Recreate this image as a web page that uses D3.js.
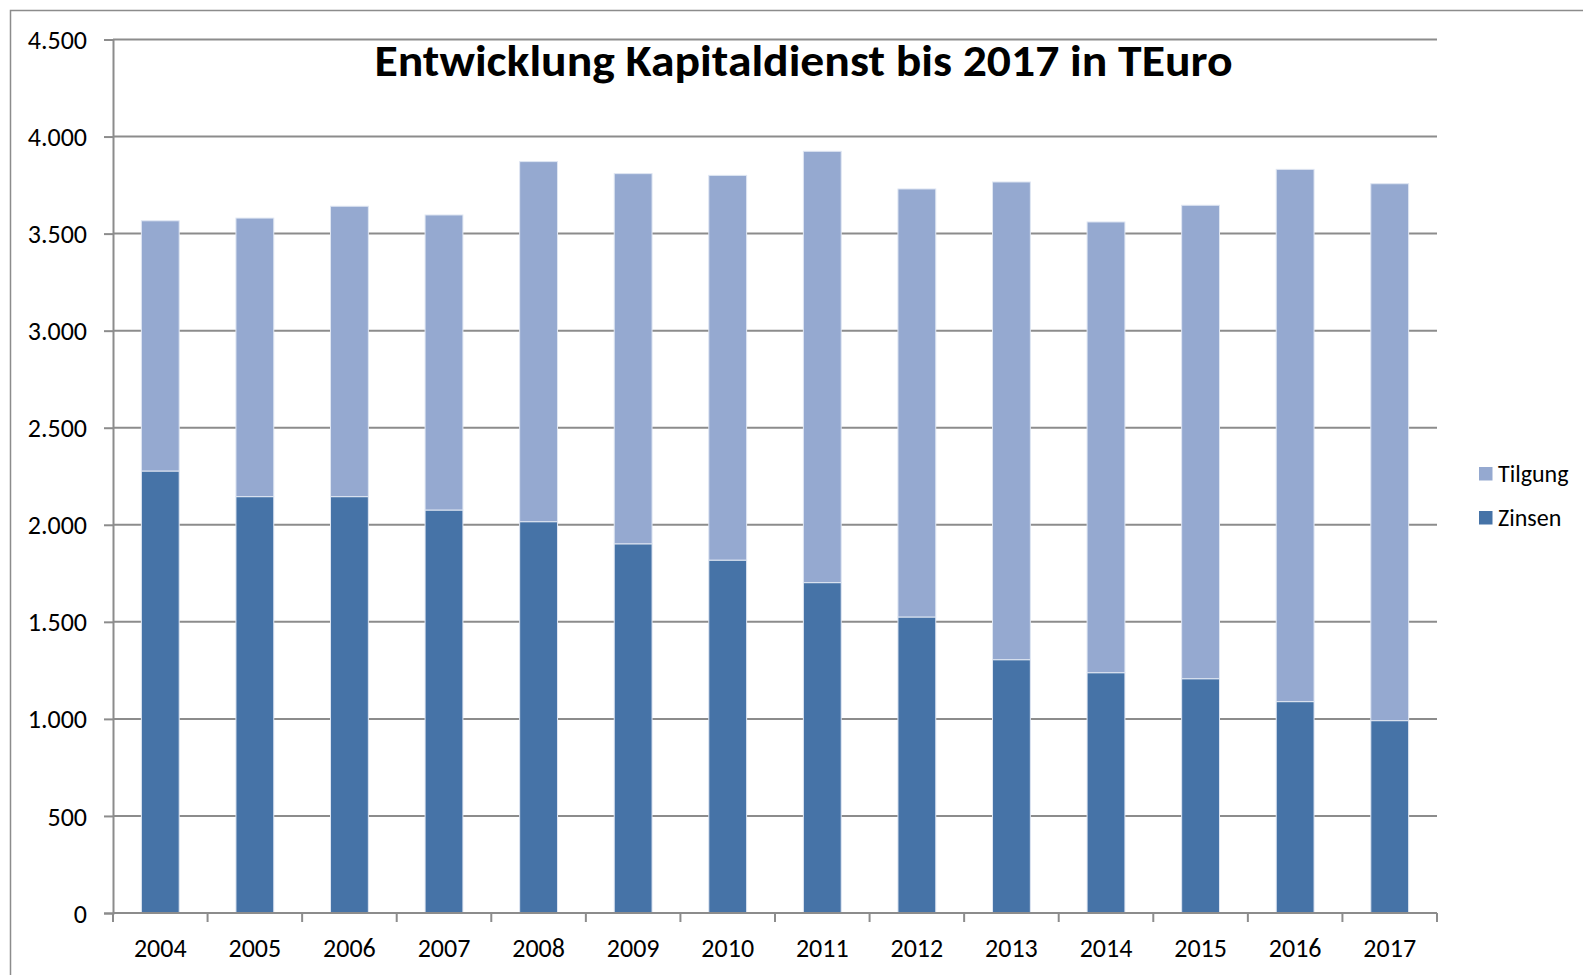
<!DOCTYPE html>
<html><head><meta charset="utf-8">
<script src="https://cdn.jsdelivr.net/npm/d3@7"></script>
<style>body{margin:0;background:#fff;}svg{display:block;}</style>
</head><body>
<script>
const years = ["2004","2005","2006","2007","2008","2009","2010","2011","2012","2013","2014","2015","2016","2017"];
const zinsen = [2277,2145,2145,2076,2016,1902,1818,1702,1525,1305,1238,1207,1089,991];
const totals = [3566,3580,3641,3596,3871,3809,3800,3924,3730,3766,3560,3646,3831,3757];
const tilgung = totals.map((t,i)=>t-zinsen[i]);
const yTicks = [0,500,1000,1500,2000,2500,3000,3500,4000,4500];
const seriesNames = ["Zinsen","Tilgung"];
const colors = {Zinsen:"#4673a7", Tilgung:"#95a9d0"};
const title = "Entwicklung Kapitaldienst bis 2017 in TEuro";

const W=1583,H=975;
const svg=d3.select("body").append("svg").attr("width",W).attr("height",H);
const font="Carlito, Calibri, 'Open Sans', sans-serif";

svg.append("rect").attr("x",10.5).attr("y",10.5).attr("width",W).attr("height",H)
  .attr("fill","none").attr("stroke","#8c8c8c").attr("stroke-width",1.5);

const x0=113,x1=1437,yTop=39.5,yBot=913;
const x=d3.scaleBand().domain(years).range([x0,x1]).paddingInner(0.6).paddingOuter(0.3);
const xb=d3.scaleBand().domain(years).range([x0,x1]);
const y=d3.scaleLinear().domain([0,4500]).range([yBot,yTop]);

// gridlines
svg.append("g").selectAll("line").data(yTicks.slice(1)).join("line")
  .attr("x1",x0).attr("x2",x1).attr("y1",d=>y(d)).attr("y2",d=>y(d))
  .attr("stroke","#8c8c8c").attr("stroke-width",2);

// stacked bars
const data=years.map((yr,i)=>({year:yr,Zinsen:zinsen[i],Tilgung:tilgung[i]}));
const stack=d3.stack().keys(seriesNames)(data);
svg.append("g").selectAll("g").data(stack).join("g")
  .attr("fill",d=>colors[d.key])
  .selectAll("rect").data(d=>d).join("rect")
  .attr("x",d=>x(d.data.year)).attr("width",x.bandwidth())
  .attr("y",d=>y(d[1])).attr("height",d=>y(d[0])-y(d[1]))
  .attr("stroke","#dfe6f2").attr("stroke-width",1);

// y axis
const yAxis=svg.append("g").attr("transform",`translate(${x0},0)`)
  .call(d3.axisLeft(y).tickValues(yTicks).tickSize(9).tickPadding(17)
    .tickFormat(d=>d3.format(",")(d).replace(/,/g,".")));
yAxis.select(".domain").attr("stroke","#8c8c8c").attr("stroke-width",2);
yAxis.selectAll(".tick line").attr("stroke","#8c8c8c").attr("stroke-width",2);
yAxis.selectAll("text").attr("font-family",font).attr("font-size",26).attr("fill","#000").attr("dy","0.35em");

// x axis
const xg=svg.append("g").attr("transform",`translate(0,${yBot})`);
xg.append("line").attr("x1",x0).attr("x2",x1).attr("stroke","#8c8c8c").attr("stroke-width",2);
const bounds=years.map(d=>xb(d)).concat([x1]);
xg.selectAll(".t").data(bounds).join("line").attr("class","t")
  .attr("x1",d=>d).attr("x2",d=>d).attr("y1",0).attr("y2",9)
  .attr("stroke","#8c8c8c").attr("stroke-width",2);
xg.selectAll("text").data(years).join("text")
  .attr("x",d=>xb(d)+xb.bandwidth()/2).attr("y",44)
  .attr("text-anchor","middle").attr("font-family",font).attr("font-size",26).text(d=>d);

// title
svg.append("text").attr("x",803.5).attr("y",76).attr("text-anchor","middle")
  .attr("font-family",font).attr("font-weight","bold").attr("font-size",44)
  .attr("textLength",858).attr("lengthAdjust","spacingAndGlyphs").text(title);

// legend
const legItems=["Tilgung","Zinsen"];
const lg=svg.append("g").selectAll("g").data(legItems).join("g")
  .attr("transform",(d,i)=>`translate(1479,${467+i*44})`);
lg.append("rect").attr("width",13.5).attr("height",13.5).attr("fill",d=>colors[d]);
lg.append("text").attr("x",19).attr("y",15).attr("font-family",font).attr("font-size",24).text(d=>d);
</script>
</body></html>
